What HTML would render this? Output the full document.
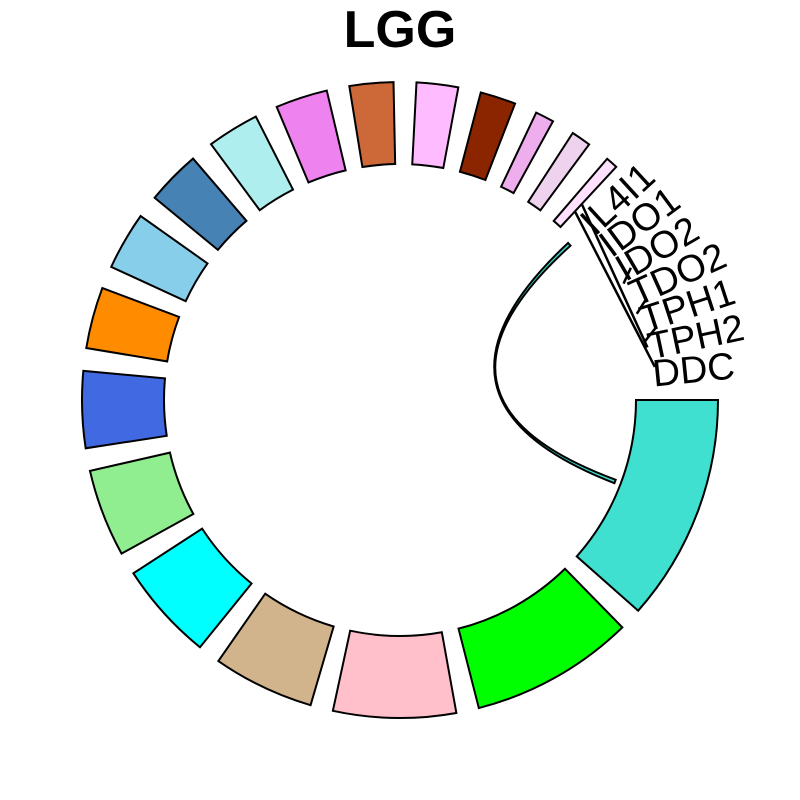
<!DOCTYPE html>
<html><head><meta charset="utf-8"><style>
html,body{margin:0;padding:0;background:#fff;}
svg{display:block;font-family:"Liberation Sans",Arial,sans-serif;}
</style></head><body>
<svg id="chart" width="800" height="800" viewBox="0 0 800 800">
<text x="400" y="47" text-anchor="middle" font-size="52" font-weight="bold">LGG</text>
<g id="sectors"></g>
<g id="links"></g>
<g id="labels"></g>
</svg>
<script>
const sectorNames = ["S1","S2","S3","S4","S5","S6","S7","S8","S9","S10","S11","S12","S13","S14","S15","S16","S17","S18","IL4I1","IDO1","IDO2","TDO2","TPH1","TPH2","DDC"];
const sectorValues = [41.5,30,22.4,18.5,18,16,14,11.2,10.6,9.9,9.5,9.5,8,7.6,6.5,3.4,3.6,2.2,2.0,2.0,2.0,2.0,2.0,2.0,2.0];
const sectorColors = ["#40E0D0","#00FF00","#FFC0CB","#D2B48C","#00FFFF","#90EE90","#4169E1","#FF8C00","#87CEEB","#4682B4","#AFEEEE","#EE82EE","#CD6839","#FFBBFF","#8B2500","#EEAEEE","#EED2EE","#FFE1FF",null,null,null,null,null,null,null];
const labeledSectors = ["IL4I1","IDO1","IDO2","TDO2","TPH1","TPH2","DDC"];
const linkFrom = ["S1"];
const linkFromPos = [0.5];
const linkTo = ["IL4I1"];
const linkToPos = [0.2];
const linkWidth = [0.9];

const NS="http://www.w3.org/2000/svg";
const cx=400, cy=400, R1=318, R0=236, RL=230;
const total=sectorValues.reduce((a,b)=>a+b,0);
const gap=(360-total)/sectorValues.length;
const starts=[]; let acc=0;
sectorValues.forEach(v=>{starts.push(acc); acc+=v+gap;});
function pt(r,a){const t=a*Math.PI/180;return [cx+r*Math.cos(t),cy+r*Math.sin(t)];}
function f(p){return p[0].toFixed(2)+","+p[1].toFixed(2);}
function arc(r,a1,a2){const lg=Math.abs(a2-a1)>180?1:0;const sw=a2>a1?1:0;return "A"+r+","+r+" 0 "+lg+" "+sw+" "+f(pt(r,a2));}

const gS=document.getElementById("sectors");
sectorNames.forEach((n,i)=>{
  if(!sectorColors[i]) return;
  const a1=starts[i], a2=starts[i]+sectorValues[i];
  const d="M"+f(pt(R1,a1))+arc(R1,a1,a2)+"L"+f(pt(R0,a2))+arc(R0,a2,a1)+"Z";
  const p=document.createElementNS(NS,"path");
  p.setAttribute("d",d);p.setAttribute("fill",sectorColors[i]);
  p.setAttribute("stroke","#000");p.setAttribute("stroke-width","2");
  
  
  gS.appendChild(p);
});

const gL=document.getElementById("links");
linkFrom.forEach((s,i)=>{
  const i1=sectorNames.indexOf(s), i2=sectorNames.indexOf(linkTo[i]);
  const m1=starts[i1]+sectorValues[i1]*linkFromPos[i], m2=starts[i2]+sectorValues[i2]*linkToPos[i];
  const w=linkWidth[i]/2;
  const a1=m1-w,a2=m1+w,b1=m2-w,b2=m2+w;
  const d="M"+f(pt(RL,a1))+arc(RL,a1,a2)+"Q"+cx+","+cy+" "+f(pt(RL,b1))+arc(RL,b1,b2)+"Q"+cx+","+cy+" "+f(pt(RL,a1))+"Z";
  const p=document.createElementNS(NS,"path");
  p.setAttribute("d",d);p.setAttribute("fill",sectorColors[i1]);
  p.setAttribute("stroke","#000");p.setAttribute("stroke-width","2");
  
  
  gL.appendChild(p);
});

const gT=document.getElementById("labels");
function seg(a1,r1,a2,r2){return "M"+f(pt(r1,a1))+"L"+f(pt(r2,a2));}
const ln=document.createElementNS(NS,"path");
ln.setAttribute("d",seg(313,267,348,253)+seg(313,257,352.6,257));
ln.setAttribute("fill","none");ln.setAttribute("stroke","#000");ln.setAttribute("stroke-width","2.5");


gT.appendChild(ln);
[331,338.5,345].forEach((a,k)=>{
  const t=document.createElementNS(NS,"path");
  t.setAttribute("d",seg(a+1.5,252,a-0.8,266));
  t.setAttribute("stroke","#000");t.setAttribute("stroke-width","2.5");
  
  
  gT.appendChild(t);
});
labeledSectors.forEach(n=>{
  const i=sectorNames.indexOf(n);
  const a=starts[i]+sectorValues[i]/2-0.6;
  const p=pt(254,a);
  const t=document.createElementNS(NS,"text");
  t.setAttribute("x",p[0].toFixed(2));t.setAttribute("y",p[1].toFixed(2));
  t.setAttribute("font-size","38");t.setAttribute("dominant-baseline","central");
  t.setAttribute("transform","rotate("+(a-360).toFixed(2)+" "+p[0].toFixed(2)+" "+p[1].toFixed(2)+")");
  t.textContent=n;
  
  
  gT.appendChild(t);
});
</script>
</body></html>
